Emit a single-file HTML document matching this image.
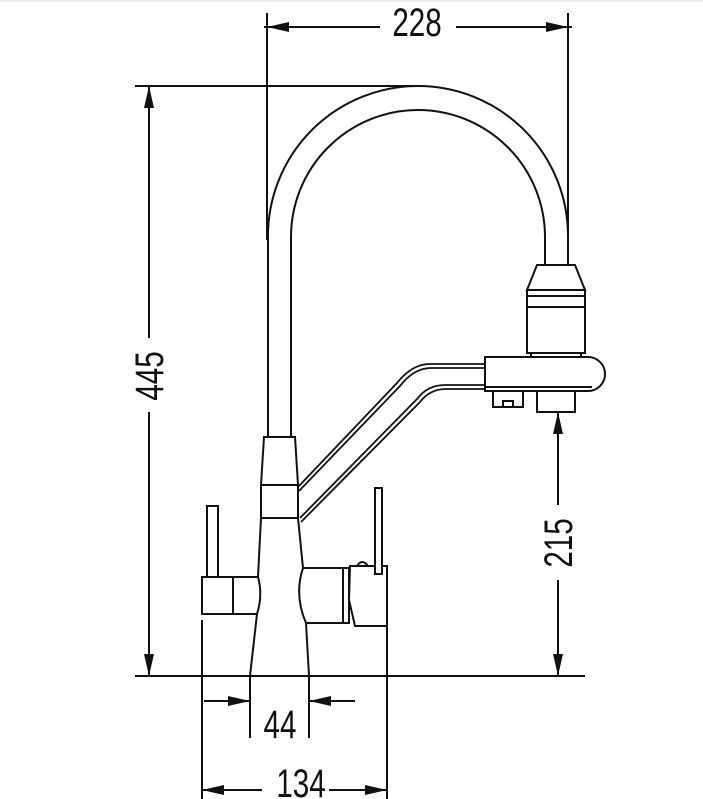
<!DOCTYPE html>
<html><head><meta charset="utf-8"><style>
html,body{margin:0;padding:0;background:#fff;}
svg{display:block;}
text{font-family:"Liberation Sans",sans-serif;fill:#111;}
</style></head><body>
<svg width="703" height="799" viewBox="0 0 703 799" xmlns="http://www.w3.org/2000/svg">
<rect x="0" y="0" width="703" height="799" fill="#fff"/>
<line x1="0" y1="1" x2="703" y2="1" stroke="#ddd" stroke-width="1"/>
<g fill="none" stroke="#111" stroke-width="2">
<line x1="267" y1="13" x2="267" y2="240"/>
<line x1="568" y1="13" x2="568" y2="240"/>
<line x1="264" y1="27" x2="380" y2="27"/>
<line x1="456" y1="27" x2="572" y2="27"/>
<line x1="135" y1="86" x2="415" y2="86"/>
<line x1="149" y1="86" x2="149" y2="338"/>
<line x1="149" y1="412" x2="149" y2="676"/>
<path d="M268 438 L268 236 A150 150 0 0 1 568 236 L568 265"/>
<path d="M291 438 L291 237 A127 127 0 0 1 545 237 L545 265"/>
<path d="M537 265 L575 265 L585 290 L527 290 Z"/>
<rect x="527" y="290" width="58" height="63"/>
<line x1="527" y1="296" x2="585" y2="296"/>
<line x1="527" y1="307" x2="585" y2="307"/>
<rect x="531" y="353" width="50" height="4"/>
<path d="M485 357 L588 357 A17 17 0 0 1 588 391 L485 391 Z"/>
<line x1="485" y1="387" x2="592" y2="387"/>
<path d="M493 391 L493 407 L523 407 L523 391"/>
<rect x="503" y="401" width="10" height="6"/>
<path d="M537 391 L537 412 L575 412 L575 391"/>
<path d="M298 487 L397 383 Q412 364 430 364 L485 364" stroke-width="1.8"/>
<path d="M299 491 L400 386 Q414 368 431 368 L485 368" stroke-width="1.8"/>
<path d="M300 518 L418 398 Q428 385 445 385 L485 385" stroke-width="1.8"/>
<path d="M301 522 L420 402 Q430 389 446 389 L485 389" stroke-width="1.8"/>
<path d="M264 437 L295 437 L298 485 L261 485 Z"/>
<rect x="261" y="485" width="37" height="33"/>
<path d="M261 518 L258 577 Q263 595 257 614 L250 676"/>
<path d="M298 518 L303 568 Q294 595 306 623 L309 676"/>
<path d="M258 577 L202 577 L202 614 L257 614"/>
<line x1="233" y1="577" x2="233" y2="614"/>
<rect x="207" y="506" width="11" height="71"/>
<path d="M303 568 L343 568 L343 623 L306 623"/>
<rect x="343" y="568" width="6" height="55"/>
<path d="M350 566 L387 566 L387 626 L355 626 L349 600 L350 566 Z"/>
<path d="M357 566 Q362 558 368 566"/>
<rect x="375" y="488" width="7" height="86" fill="#fff"/>
<line x1="135" y1="676" x2="585" y2="676"/>
<line x1="202" y1="620" x2="202" y2="799"/>
<line x1="387" y1="620" x2="387" y2="799"/>
<line x1="250" y1="676" x2="250" y2="738"/>
<line x1="309" y1="676" x2="309" y2="738"/>
<line x1="204" y1="701" x2="250" y2="701"/>
<line x1="309" y1="701" x2="355" y2="701"/>
<line x1="202" y1="790" x2="262" y2="790"/>
<line x1="329" y1="790" x2="387" y2="790"/>
<line x1="558" y1="412" x2="558" y2="505"/>
<line x1="558" y1="580" x2="558" y2="676"/>
</g>
<g fill="#111">
<polygon points="267,27 289,22 289,32"/>
<polygon points="568,27 546,22 546,32"/>
<polygon points="149,86 144,108 154,108"/>
<polygon points="149,676 144,654 154,654"/>
<polygon points="250,701 228,696 228,706"/>
<polygon points="309,701 331,696 331,706"/>
<polygon points="202,790 224,785 224,795"/>
<polygon points="387,790 365,785 365,795"/>
<polygon points="558,412 553,434 563,434"/>
<polygon points="558,676 553,654 563,654"/>
</g>
<text font-size="40" text-anchor="middle" transform="translate(417,36) scale(0.74,1)">228</text>
<text font-size="40" text-anchor="middle" transform="translate(163,376) rotate(-90) scale(0.74,1)">445</text>
<text font-size="40" text-anchor="middle" transform="translate(572,543) rotate(-90) scale(0.74,1)">215</text>
<text font-size="40" text-anchor="middle" transform="translate(280,738) scale(0.74,1)">44</text>
<text font-size="40" text-anchor="middle" transform="translate(301,797) scale(0.74,1)">134</text>
</svg>
</body></html>
